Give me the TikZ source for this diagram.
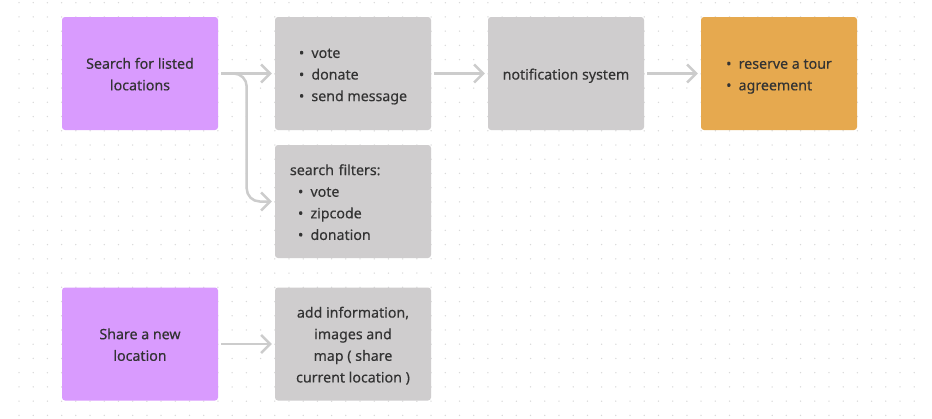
\documentclass[tikz,border=0pt]{standalone}
\usepackage{fontspec}
\setmainfont{Noto Sans}[FakeBold=0.3]
\usetikzlibrary{arrows.meta}
\definecolor{purp}{HTML}{D99BFE}
\definecolor{gbox}{HTML}{CFCDCE}
\definecolor{obox}{HTML}{E6A94F}
\definecolor{txt}{HTML}{333333}
\definecolor{arrc}{HTML}{CCCCCC}
\definecolor{dotc}{HTML}{D9D9D9}
\newcommand\sr{\rule[-4.8pt]{0pt}{21.6pt}}
\newcommand\bitm[1]{\sr\makebox[12.5pt][l]{\textbullet}#1}
\tikzset{
  box/.style={rectangle, rounded corners=3pt, minimum width=156pt, minimum height=113pt,
    inner sep=0pt, align=center, text=txt, font=\fontsize{14.2}{21.6}\selectfont},
  arr/.style={draw=arrc, line width=2.5pt, -{Straight Barb[length=9pt,width=18pt]}},
}
\begin{document}
\begin{tikzpicture}[x=1pt,y=-1pt]
\useasboundingbox[fill=white] (0,0) rectangle (932,418);
\foreach \i in {0,...,63}{
  \foreach \j in {0,...,29}{
    \fill[dotc] (19+\i*14.21, 2.7+\j*14.23) circle (0.75);
  }
}
\node[box, fill=purp] (A) at (140,73.5) {\sr Search for listed\\\sr locations};
\node[box, fill=gbox, align=left] (B) at (353,73.5) {\bitm{vote}\\\bitm{donate}\\\bitm{send message}};
\node[box, fill=gbox, text width=126pt, align=left] (C) at (353,201.5) {\sr search filters:\\\hspace*{8pt}\bitm{vote}\\\hspace*{8pt}\bitm{zipcode}\\\hspace*{8pt}\bitm{donation}};
\node[box, fill=gbox] (D) at (566,73.5) {\sr notification system};
\node[box, fill=obox, align=left] (E) at (779,73.5) {\bitm{reserve a tour}\\\bitm{agreement}};
\node[box, fill=purp] (F) at (140,344) {\sr Share a new\\\sr location};
\node[box, fill=gbox] (G) at (353,344) {\sr add information,\\\sr images and\\\sr map ( share\\\sr current location )};
\draw[arr] ([xshift=3pt]A.east) -- ([xshift=-3pt]B.west);
\draw[arr, rounded corners=13pt] ([xshift=3pt]A.east) -- ([xshift=28.5pt]A.east) |- ([xshift=-3pt]C.west);
\draw[arr] ([xshift=3pt]B.east) -- ([xshift=-3pt]D.west);
\draw[arr] ([xshift=3pt]D.east) -- ([xshift=-3pt]E.west);
\draw[arr] ([xshift=3pt]F.east) -- ([xshift=-3pt]G.west);
\end{tikzpicture}
\end{document}
